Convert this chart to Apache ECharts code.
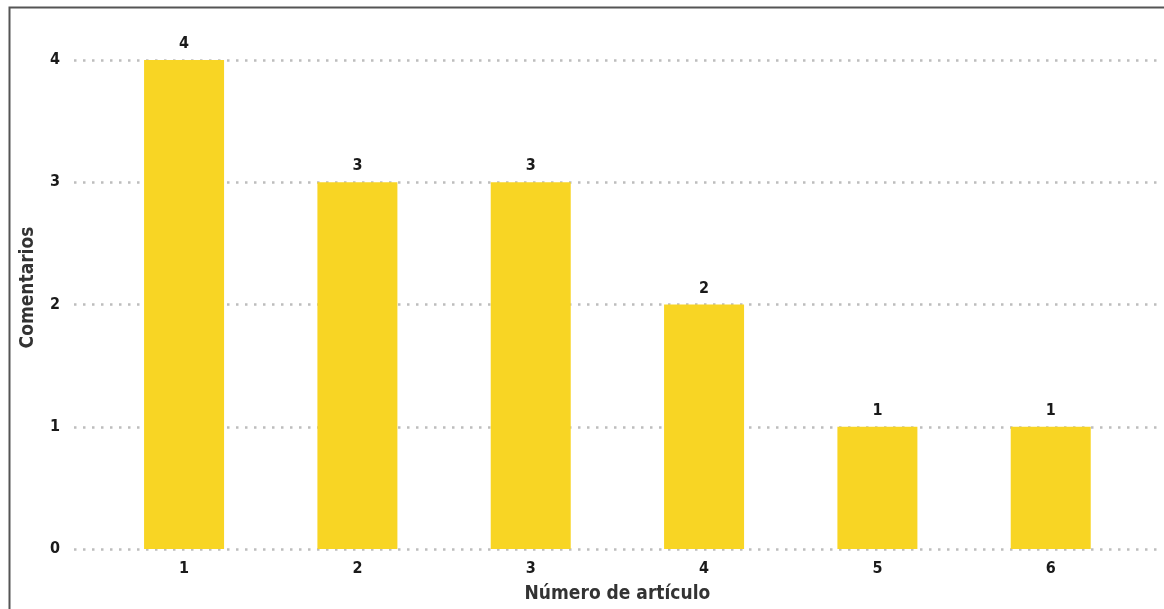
<!DOCTYPE html>
<html>
<head>
<meta charset="utf-8">
<script src="https://cdn.jsdelivr.net/npm/echarts@6/dist/echarts.min.js"></script>
<style>
html,body{margin:0;padding:0;background:#fff;}
#chart{width:1164px;height:609px;}
</style>
</head>
<body>
<div id="chart"></div>
<script>
const categories = ['1','2','3','4','5','6'];
const comentarios = [4, 3, 3, 2, 1, 1];
const yTicks = [0, 1, 2, 3, 4];

const FONT = '"DejaVu Sans Condensed", "DejaVu Sans", sans-serif';
const chart = echarts.init(document.getElementById('chart'));
chart.setOption({
  backgroundColor: '#fff',
  animation: false,
  graphic: [{
    type: 'rect', left: 7, top: 5,
    shape: {width: 1200, height: 700},
    style: {fill: 'none', stroke: '#555', lineWidth: 2},
    z: 100
  }],
  grid: [
    {left: 74, right: 4, top: 60, bottom: 60},
    {left: 97.4, right: 26.6, top: 60, bottom: 60}
  ],
  xAxis: [
    {gridIndex: 0, type: 'value', show: false, min: 0, max: 1},
    {gridIndex: 1, type: 'category', data: categories,
     axisLine: {show: false}, axisTick: {show: false},
     axisLabel: {margin: 12, color: '#1a1a1a', fontFamily: FONT, fontWeight: 'bold', fontSize: 16},
     name: 'Número de artículo', nameLocation: 'middle', nameGap: 36,
     nameTextStyle: {color: '#333', fontFamily: FONT, fontWeight: 'bold', fontSize: 19}}
  ],
  yAxis: [
    {gridIndex: 0, type: 'value', min: yTicks[0], max: yTicks[yTicks.length - 1], interval: 1,
     axisLine: {show: false}, axisTick: {show: false},
     axisLabel: {margin: 14, color: '#1a1a1a', fontFamily: FONT, fontWeight: 'bold', fontSize: 16},
     splitLine: {show: true, lineStyle: {color: '#bdbdbd', width: 2.5, type: [2.5, 6.5]}},
     name: 'Comentarios', nameLocation: 'middle', nameGap: 36,
     nameTextStyle: {color: '#333', fontFamily: FONT, fontWeight: 'bold', fontSize: 19,
                     padding: [0, 0, 0, 34]}},
    {gridIndex: 1, type: 'value', min: yTicks[0], max: yTicks[yTicks.length - 1], interval: 1, show: false,
     splitLine: {show: false}}
  ],
  series: [{
    type: 'bar', xAxisIndex: 1, yAxisIndex: 1,
    data: comentarios, barWidth: 80,
    itemStyle: {color: '#F8D524'},
    label: {show: true, position: 'top', distance: 8, color: '#1a1a1a',
            fontFamily: FONT, fontWeight: 'bold', fontSize: 16}
  }]
});
</script>
</body>
</html>
